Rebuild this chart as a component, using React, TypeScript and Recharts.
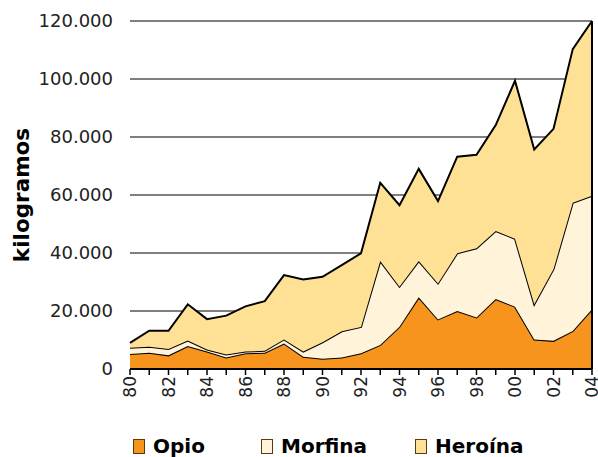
import { AreaChart, Area, XAxis, YAxis, CartesianGrid, ReferenceLine } from 'recharts';

const years = [
  1980, 1981, 1982, 1983, 1984, 1985, 1986, 1987, 1988, 1989, 1990, 1991,
  1992, 1993, 1994, 1995, 1996, 1997, 1998, 1999, 2000, 2001, 2002, 2003, 2004,
];
const opio = [
  5200, 5600, 4700, 7900, 6000, 4000, 5400, 5600, 8800, 4200, 3500, 4000,
  5400, 8300, 14600, 24700, 17100, 20000, 17800, 24100, 21500, 10200, 9700, 13100, 20600,
];
const morfina = [
  2100, 2100, 2200, 1900, 700, 1000, 600, 700, 1400, 1800, 5700, 9000,
  9100, 28900, 13800, 12500, 12400, 19900, 23800, 23500, 23400, 12100, 24700, 44200, 39100,
];
const heroina = [
  1700, 5500, 6300, 12500, 10500, 13400, 15600, 17100, 22200, 24900, 22600, 22800,
  25400, 27000, 28100, 31800, 28400, 33300, 32300, 36500, 54500, 53400, 48400, 53000, 60300,
];
const yTicks = [0, 20000, 40000, 60000, 80000, 100000, 120000];

const data = years.map((year, i) => ({
  year,
  Opio: opio[i],
  Morfina: morfina[i],
  Heroína: heroina[i],
}));

const series = [
  { key: 'Opio', color: '#F7941E' },
  { key: 'Morfina', color: '#FFF3DA' },
  { key: 'Heroína', color: '#FFE195' },
];

const fmt = (v: number) => String(v).replace(/\B(?=(\d{3})+(?!\d))/g, '.');

function YearTick({ x, y, payload }: any) {
  const v = payload.value as number;
  if (v % 2 !== 0) return null;
  return (
    <text
      transform={`translate(${x},${y + 1}) rotate(-90)`}
      textAnchor="end"
      dominantBaseline="central"
      fontSize={17}
      fill="#222"
    >
      {String(v).slice(2)}
    </text>
  );
}

export default function App() {
  return (
    <div style={{ width: 598, height: 457, overflow: 'hidden', fontFamily: 'DejaVu Sans' }}>
      <style>{'html,body{margin:0;padding:0;overflow:hidden;}'}</style>
      <AreaChart
        width={598}
        height={425}
        data={data}
        margin={{ top: 21, right: 6, left: 17, bottom: 16 }}
        style={{ fontFamily: 'DejaVu Sans', overflow: 'visible' }}
      >
        <CartesianGrid vertical={false} stroke="#555" strokeWidth={1.3} />
        <XAxis
          dataKey="year"
          type="number"
          domain={[1980, 2004]}
          ticks={years}
          interval={0}
          axisLine={{ stroke: '#000', strokeWidth: 2 }}
          tickLine={{ stroke: '#000', strokeWidth: 1.5 }}
          tickSize={6}
          tickMargin={0}
          height={40}
          tick={<YearTick />}
        />
        <YAxis
          domain={[0, 120000]}
          ticks={yTicks}
          width={113}
          axisLine={false}
          tickLine={false}
          tickSize={0}
          tickMargin={17}
          tickFormatter={fmt}
          tick={{ fontSize: 18, fill: '#222' }}
          label={{
            value: 'kilogramos',
            angle: -90,
            position: 'insideLeft',
            offset: 4,
            style: { textAnchor: 'middle', fontSize: 21.5, fontWeight: 'bold', fill: '#000' },
          }}
        />
        {series.map((s) => (
          <Area
            key={s.key}
            type="linear"
            dataKey={s.key}
            stackId="1"
            stroke="#000"
            strokeWidth={2}
            fill={s.color}
            fillOpacity={1}
            isAnimationActive={false}
          />
        ))}
        <ReferenceLine x={2004} stroke="#000" strokeWidth={2} />
      </AreaChart>
      <div style={{ display: 'flex', alignItems: 'center', height: 20, marginTop: 11, marginLeft: 133, lineHeight: '20px' }}>
        {series.map((s, i) => (
          <div
            key={s.key}
            style={{ display: 'flex', alignItems: 'center', width: i === 0 ? 128 : i === 1 ? 154 : 150 }}
          >
            <span
              style={{
                display: 'inline-block',
                width: 10,
                height: 13,
                background: s.color,
                border: '1px solid #5a3a10',
                marginRight: 8,
              }}
            />
            <span style={{ fontSize: 20, fontWeight: 'bold', color: '#000' }}>{s.key}</span>
          </div>
        ))}
      </div>
    </div>
  );
}
